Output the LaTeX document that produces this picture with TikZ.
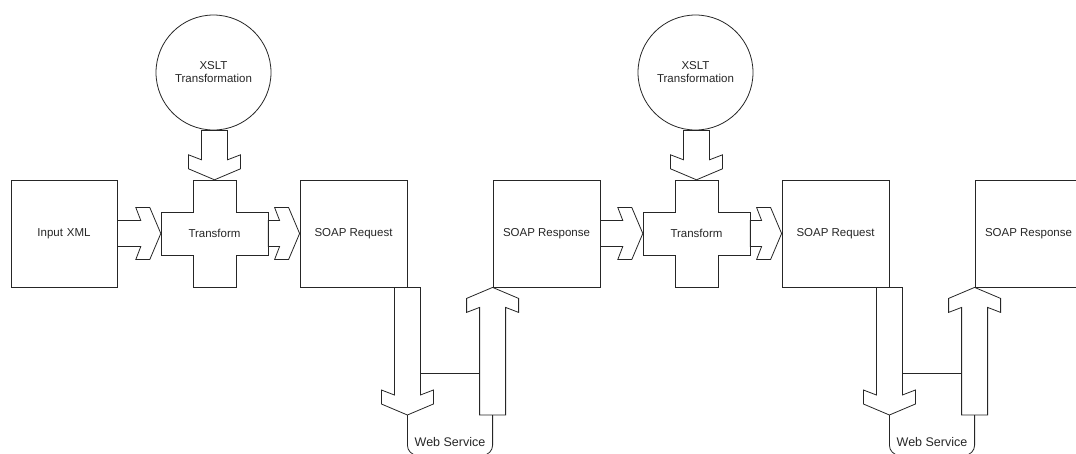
\documentclass[tikz,border=0pt]{standalone}
\usepackage{fontspec}
\setmainfont{Liberation Sans}
\usetikzlibrary{calc}
\newcommand\rarr[2]{\draw[ln] let \p1=(#1), \p2=(#2) in
  (\x1,\y2+13pt) -- (\x2-20pt,\y2+13pt) -- (\x2-25pt,\y2+26pt) -- (\x2-11pt,\y2+26pt) -- (\x2,\y2)
  -- (\x2-11pt,\y2-26pt) -- (\x2-25pt,\y2-26pt) -- (\x2-20pt,\y2-13pt) -- (\x1,\y2-13pt) -- cycle;}
\newcommand\darr[2]{\draw[ln] let \p1=(#1), \p2=(#2) in
  (\x2-13pt,\y1) -- (\x2-13pt,\y2+20pt) -- (\x2-26pt,\y2+25pt) -- (\x2-26pt,\y2+11pt) -- (\x2,\y2)
  -- (\x2+26pt,\y2+11pt) -- (\x2+26pt,\y2+25pt) -- (\x2+13pt,\y2+20pt) -- (\x2+13pt,\y1) -- cycle;}
\newcommand\uarr[2]{\draw[ln] let \p1=(#1), \p2=(#2) in
  (\x2-13pt,\y1) -- (\x2-13pt,\y2-20pt) -- (\x2-26pt,\y2-25pt) -- (\x2-26pt,\y2-11pt) -- (\x2,\y2)
  -- (\x2+26pt,\y2-11pt) -- (\x2+26pt,\y2-25pt) -- (\x2+13pt,\y2-20pt) -- (\x2+13pt,\y1) -- cycle;}
\newcommand\crossat[1]{\draw[ln] ($(#1.center)+(-21.5,-53.5)$) -- ++(43,0) -- ++(0,32) -- ++(32,0)
  -- ++(0,43) -- ++(-32,0) -- ++(0,32) -- ++(-43,0) -- ++(0,-32) -- ++(-32,0) -- ++(0,-43) -- ++(32,0) -- cycle;}
\begin{document}
\begin{tikzpicture}[x=1pt,y=-1pt,
  ln/.style={draw=black!85, line width=0.8pt},
  txt/.style={font=\fontsize{11.5}{13}\selectfont, text=black!85},
  box/.style={ln, txt, minimum width=107pt, minimum height=107pt, inner sep=0pt},
  crossn/.style={txt, minimum width=107pt, minimum height=107pt, inner sep=0pt},
  xslt/.style={ln, txt, circle, minimum size=115pt, inner sep=0pt, align=center},
  wsn/.style={txt, font=\fontsize{12.5}{13}\selectfont, minimum width=86pt, minimum height=26pt, inner sep=0pt}]
\useasboundingbox (0,0) rectangle (1076,453);
\clip (0,0) rectangle (1076,453);
% left half
\node[box, minimum width=106pt] (in) at (64,233.5) {Input\,\,XML};
\node[xslt] (xs1) at (213.5,72.5) {XSLT\\Transformation};
\node[crossn] (tr1) at (214.5,233.5) {Transform};
\crossat{tr1}
\node[box] (req1) at (353.5,233.5) {SOAP Request};
\node[box] (resp1) at (546.5,233.5) {SOAP Response};
\node[wsn] (ws1) at (450,442) {Web Service};
\coordinate (ws1a) at (req1.south east |- 0,415);
\coordinate (ws1b) at (resp1.south west |- 0,415);
\darr{xs1.south}{tr1.north}
\rarr{in.east}{tr1.west}
\rarr{tr1.east}{req1.west}
\darr{req1.south east}{ws1a}
\uarr{ws1b}{resp1.south west}
\draw[ln, rounded corners=10pt] (ws1a) -- (ws1a |- ws1.south) -- (ws1b |- ws1.south) -- (ws1b);
\draw[ln] ($(ws1a)+(13,-42)$) -- ($(ws1b)+(-13,-42)$);
% right half
\node[xslt] (xs2) at (695.5,72.5) {XSLT\\Transformation};
\node[crossn] (tr2) at (696.5,233.5) {Transform};
\crossat{tr2}
\node[box] (req2) at (835.5,233.5) {SOAP Request};
\node[box] (resp2) at (1028.5,233.5) {SOAP Response};
\node[wsn] (ws2) at (932,442) {Web Service};
\coordinate (ws2a) at (req2.south east |- 0,415);
\coordinate (ws2b) at (resp2.south west |- 0,415);
\darr{xs2.south}{tr2.north}
\rarr{resp1.east}{tr2.west}
\rarr{tr2.east}{req2.west}
\darr{req2.south east}{ws2a}
\uarr{ws2b}{resp2.south west}
\draw[ln, rounded corners=10pt] (ws2a) -- (ws2a |- ws2.south) -- (ws2b |- ws2.south) -- (ws2b);
\draw[ln] ($(ws2a)+(13,-42)$) -- ($(ws2b)+(-13,-42)$);
\end{tikzpicture}
\end{document}
